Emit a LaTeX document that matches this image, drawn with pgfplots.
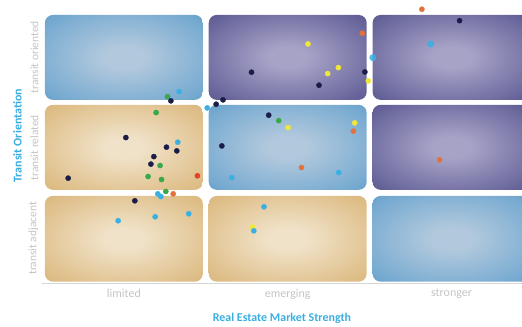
\documentclass[border=0pt]{standalone}
\usepackage{pgfplots}
\pgfplotsset{compat=1.18}
\usepackage{fontspec}
\setmainfont{Carlito}
\definecolor{tanin}{HTML}{F0E2C8}
\definecolor{tanmid}{HTML}{DFBF8A}
\definecolor{tanout}{HTML}{CC9F5C}
\definecolor{bluin}{HTML}{B2C9DD}
\definecolor{blumid}{HTML}{78ABD1}
\definecolor{bluout}{HTML}{3A84BD}
\definecolor{purin}{HTML}{A7A3C7}
\definecolor{purmid}{HTML}{6A679D}
\definecolor{purout}{HTML}{33316C}
\definecolor{cnavy}{HTML}{1B1D48}
\definecolor{corange}{HTML}{E5713A}
\definecolor{cyellow}{HTML}{EEE83C}
\definecolor{cgreen}{HTML}{3AA84A}
\definecolor{clblue}{HTML}{3AB0E2}
\definecolor{cred}{HTML}{E54127}
\definecolor{tblue}{HTML}{3AAEE0}
\definecolor{lgrey}{HTML}{C4C4C4}
\pgfdeclareradialshading[tanin,tanmid,tanout]{tanshade}{\pgfpoint{0bp}{0bp}}{color(0bp)=(tanin); color(6bp)=(tanin); color(30bp)=(tanmid); color(52bp)=(tanout); color(72bp)=(tanout)}
\pgfdeclareradialshading[bluin,blumid,bluout]{blushade}{\pgfpoint{0bp}{0bp}}{color(0bp)=(bluin); color(6bp)=(bluin); color(30bp)=(blumid); color(52bp)=(bluout); color(72bp)=(bluout)}
\pgfdeclareradialshading[purin,purmid,purout]{purshade}{\pgfpoint{0bp}{0bp}}{color(0bp)=(purin); color(6bp)=(purin); color(30bp)=(purmid); color(52bp)=(purout); color(72bp)=(purout)}
\begin{document}
\begin{tikzpicture}
\begin{axis}[
  scale only axis,
  width=480.5bp, height=283bp,
  xmin=0, xmax=2.93, ymin=0, ymax=3.12,
  axis x line=bottom, axis y line=left,
  x axis line style={draw=lgrey!70, -},
  y axis line style={draw=none},
  xtick={0.5,1.5,2.5}, xticklabels={limited,emerging,stronger},
  ytick={0.5,1.5,2.5}, yticklabels={transit adjacent,transit related,transit oriented},
  major tick length=0pt,
  xticklabel style={font=\fontsize{12}{14}\selectfont, text=lgrey, yshift=-3bp},
  yticklabel style={font=\fontsize{11.5}{14}\selectfont, text=lgrey, rotate=90, anchor=south, xshift=-1bp},
  xlabel={Real Estate Market Strength},
  ylabel={Transit Orientation},
  xlabel style={font=\bfseries\fontsize{12}{14}\selectfont, text=tblue, yshift=-7bp},
  ylabel style={font=\bfseries\fontsize{12}{14}\selectfont, text=tblue, at={(ticklabel cs:0.52)}},
  only marks,
]
\shade[shading=tanshade, rounded corners=8pt] (axis cs:0.018,0.012) rectangle (axis cs:0.982,0.958);
\shade[shading=tanshade, rounded corners=8pt] (axis cs:1.018,0.012) rectangle (axis cs:1.982,0.958);
\shade[shading=blushade, rounded corners=8pt] (axis cs:2.018,0.012) rectangle (axis cs:2.982,0.958);
\shade[shading=tanshade, rounded corners=8pt] (axis cs:0.018,1.025) rectangle (axis cs:0.982,1.963);
\shade[shading=blushade, rounded corners=8pt] (axis cs:1.018,1.025) rectangle (axis cs:1.982,1.963);
\shade[shading=purshade, rounded corners=8pt] (axis cs:2.018,1.025) rectangle (axis cs:2.982,1.963);
\shade[shading=blushade, rounded corners=8pt] (axis cs:0.018,2.018) rectangle (axis cs:0.982,2.955);
\shade[shading=purshade, rounded corners=8pt] (axis cs:1.018,2.018) rectangle (axis cs:1.982,2.955);
\shade[shading=purshade, rounded corners=8pt] (axis cs:2.018,2.018) rectangle (axis cs:2.982,2.955);
% yellow
\addplot[color=cyellow, mark=*, mark size=2.6pt] coordinates {
(1.624,2.635) (1.809,2.374) (1.744,2.308) (1.992,2.227) (1.502,1.712) (1.909,1.764) (1.285,0.614)};
% light blue
\addplot[color=clblue, mark=*, mark size=2.6pt] coordinates {
(0.837,2.109) (1.009,1.929) (0.829,1.551) (0.707,0.981) (0.726,0.951)
(0.465,0.684) (0.691,0.728) (0.896,0.761) (1.811,1.216) (1.159,1.161) (1.355,0.838) (1.293,0.573)};
\addplot[color=clblue, mark=*, mark size=3.3pt, mark options={fill opacity=0.85, draw opacity=0.85}] coordinates {
(2.372,2.635) (2.020,2.484)};
% green
\addplot[color=cgreen, mark=*, mark size=2.6pt] coordinates {
(0.766,2.054) (0.697,1.878) (0.721,1.293) (0.648,1.172) (0.730,1.139) (0.756,1.007) (1.445,1.789)};
% orange
\addplot[color=corange, mark=*, mark size=2.6pt] coordinates {
(2.319,3.018) (1.955,2.753) (0.801,0.981) (1.901,1.673) (1.584,1.271) (2.427,1.356)};
% red
\addplot[color=cred, mark=*, mark size=2.6pt] coordinates {
(0.949,1.180)};
% navy
\addplot[color=cnavy, mark=*, mark size=2.6pt] coordinates {
(0.787,2.007) (1.279,2.323) (1.105,2.018) (1.063,1.970) (2.549,2.892) (1.971,2.326)
(1.691,2.180) (0.512,1.602) (0.760,1.496) (0.823,1.455) (0.683,1.392) (0.665,1.309)
(0.160,1.154) (0.567,0.904) (1.098,1.510) (1.384,1.849)};
\end{axis}
\pgfresetboundingbox
\useasboundingbox ([xshift=-42bp,yshift=-44bp]current axis.south west) rectangle (current axis.north east);
\end{tikzpicture}
\end{document}
